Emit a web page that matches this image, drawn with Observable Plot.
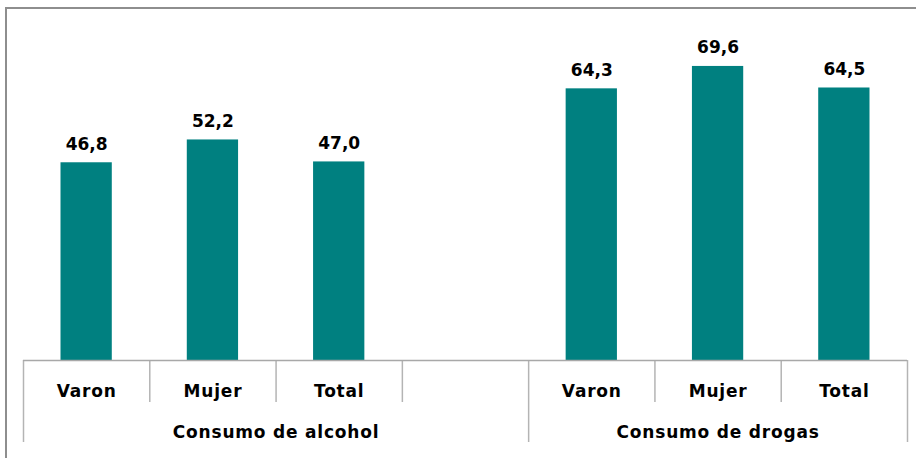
<!DOCTYPE html>
<html>
<head>
<meta charset="utf-8">
<script src="https://cdn.jsdelivr.net/npm/d3@7"></script>
<script src="https://cdn.jsdelivr.net/npm/@observablehq/plot@0.6"></script>
<style>
  html, body { margin: 0; padding: 0; background: #fff; overflow: hidden; }
  #wrap { position: relative; width: 916px; height: 458px; overflow: hidden; }
  #frame { position: absolute; left: 5px; top: 7px; width: 1000px; height: 1000px;
           border-left: 2px solid #8e8e8e; border-top: 2px solid #8e8e8e; pointer-events: none; }
  #chart { position: absolute; left: 0; top: 0; }
  #chart svg g[aria-label="x-axis tick label"] text { letter-spacing: 0.8px; }
</style>
</head>
<body>
<div id="wrap"><div id="chart"></div><div id="frame"></div></div>
<script>
const groups = ["Consumo de alcohol", "Consumo de drogas"];
const sexes = ["Varon", "Mujer", "Total"];
const alcohol = [46.8, 52.2, 47.0];
const drogas = [64.3, 69.6, 64.5];

// slot layout: 3 alcohol slots, 1 empty slot, 3 drugs slots
const groupStart = [0, 4];
const series = [alcohol, drogas];

const rows = [];
series.forEach((vals, g) => {
  vals.forEach((v, i) => {
    rows.push({group: groups[g], sex: sexes[i], value: v, x1: groupStart[g] + i, x2: groupStart[g] + i + 1, xc: groupStart[g] + i + 0.5});
  });
});

const allBoundaries = d3.range(0, 8);
const groupBoundaries = [0, 4, 7];
const shortTicks = allBoundaries.filter(b => !groupBoundaries.includes(b));
const catTicks = rows.map(d => d.xc);
const catLabel = new Map(rows.map(d => [d.xc, d.sex]));
const groupCenters = [2, 5.5];
const groupLabel = new Map(groupCenters.map((c, i) => [c, groups[i]]));

const fmt = v => v.toFixed(1).replace(".", ",");

const chart = Plot.plot({
  width: 916,
  height: 458,
  marginLeft: 23,
  marginRight: 9,
  marginTop: 22,
  marginBottom: 98,
  style: {fontFamily: "DejaVu Sans", background: "transparent", overflow: "visible"},
  x: {type: "linear", domain: [0, 7], axis: null},
  y: {domain: [0, 80], axis: null},
  marks: [
    Plot.rectY(rows, {x1: "x1", x2: "x2", y: "value", fill: "#008080", insetLeft: 37.5, insetRight: 37.5}),
    Plot.text(rows, {x: "xc", y: "value", text: d => fmt(d.value), lineAnchor: "bottom", dy: -13,
      fontSize: 17, fontWeight: "bold", fill: "#000", letterSpacing: "0.6px"}),
    Plot.axisX({ticks: shortTicks, tickSize: 42, tickFormat: () => "", stroke: "#b4b4b4", strokeWidth: 1.5, strokeOpacity: 1}),
    Plot.axisX({ticks: groupBoundaries, tickSize: 82, tickFormat: () => "", stroke: "#b4b4b4", strokeWidth: 1.5, strokeOpacity: 1}),
    Plot.axisX({ticks: catTicks, tickSize: 0, tickPadding: 24, tickFormat: d => catLabel.get(d),
      fontSize: 17, fontWeight: "bold", fill: "#000"}),
    Plot.axisX({ticks: groupCenters, tickSize: 0, tickPadding: 65, tickFormat: d => groupLabel.get(d),
      fontSize: 17, fontWeight: "bold", fill: "#000"}),
    Plot.ruleY([0], {stroke: "#a8a8a8", strokeWidth: 1.5})
  ]
});
document.getElementById("chart").appendChild(chart);
</script>
</body>
</html>
